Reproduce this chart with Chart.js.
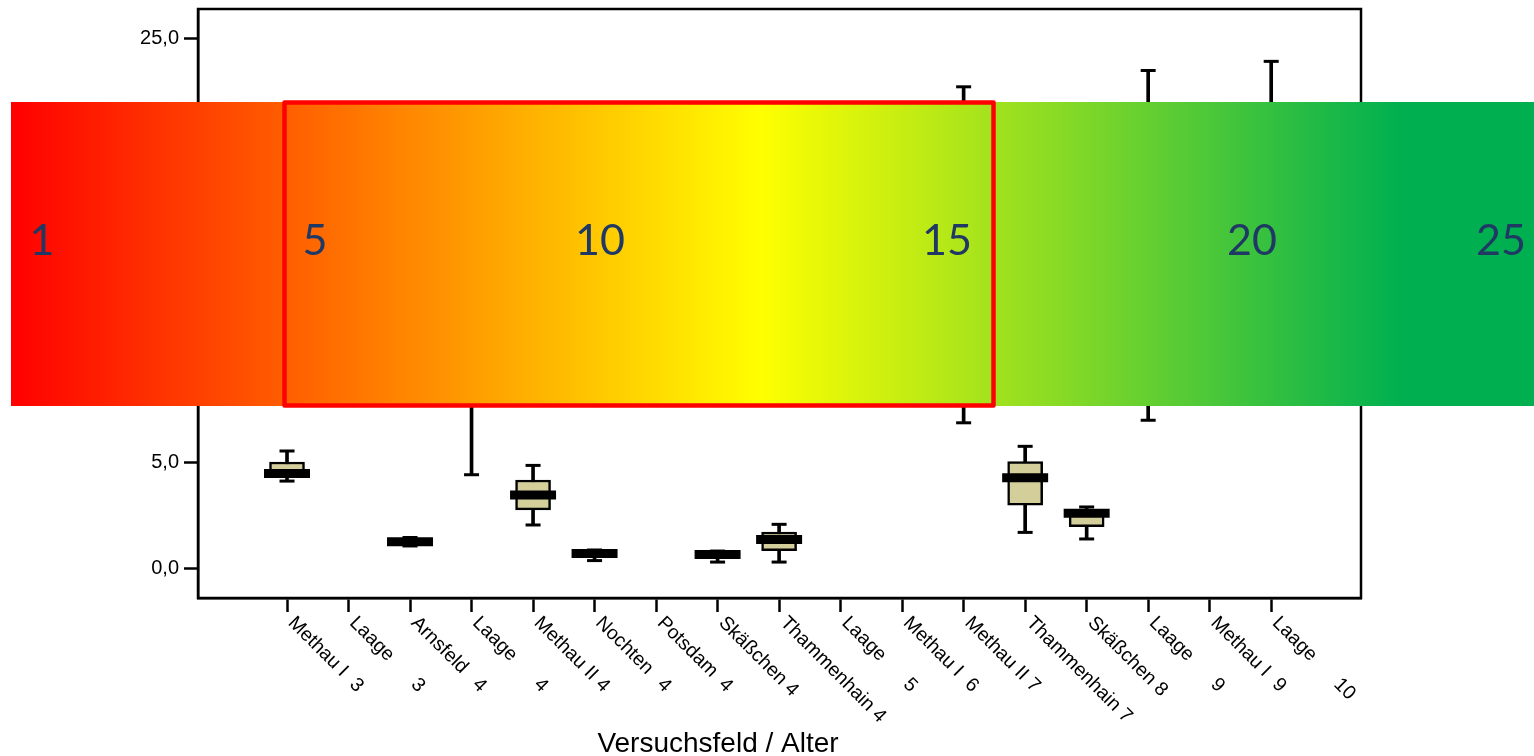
<!DOCTYPE html>
<html><head><meta charset="utf-8">
<script src="https://cdn.jsdelivr.net/npm/chart.js@4.4.1/dist/chart.umd.min.js"></script>
<style>html,body{margin:0;padding:0;background:#fff;}canvas{display:block}</style>
</head><body>
<canvas id="c" width="1534" height="756"></canvas>
<script>
// ---- data ----
const categories = ["Methau I","Laage","Arnsfeld","Laage","Methau II","Nochten","Potsdam","Skäßchen","Thammenhain","Laage","Methau I","Methau II","Thammenhain","Skäßchen","Laage","Methau I","Laage"];
const ages       = [3,3,4,4,4,4,4,4,4,5,6,7,7,8,9,9,10];
const whiskerMin = [4.10, 9.0, 1.04, 4.40, 2.03, 0.35, 10.5, 0.28, 0.28, 11.0, 9.0, 6.85, 1.68, 1.37, 6.97, 10.0, 8.5];
const q1         = [4.35, 11.5, 1.15, 9.5, 2.74, 0.50, 12.0, 0.45, 0.82, 13.0, 11.0, 11.0, 2.96, 1.95, 12.0, 12.5, 13.0];
const medians    = [4.46, 13.0, 1.24, 12.0, 3.44, 0.68, 13.0, 0.64, 1.35, 14.5, 12.5, 14.0, 4.26, 2.58, 15.0, 14.0, 16.0];
const q3         = [5.00, 14.5, 1.33, 15.0, 4.15, 0.80, 14.0, 0.75, 1.70, 16.0, 14.0, 17.0, 5.02, 2.76, 18.0, 16.0, 19.0];
const whiskerMax = [5.52, 17.0, 1.44, 20.0, 4.84, 0.85, 15.5, 0.80, 2.06, 19.0, 17.0, 22.7, 5.74, 2.88, 23.47, 19.0, 23.9];
const yTicks = [0, 5, 10, 15, 20, 25];
const xTitle = "Versuchsfeld / Alter";
const bandLabels = ["1", "5", "10", "15", "20", "25"];

// ---- build ----
const FONT = '"Liberation Sans", Arial, sans-serif';
const idx = categories.map((_, i) => i);
const whiskerData = idx.map(i => ({x: i, y: [whiskerMin[i], whiskerMax[i]]}));
const boxData = idx.map(i => ({x: i, y: [q1[i], q3[i]]}));
const capData = idx.flatMap(i => [{x: i, y: whiskerMin[i]}, {x: i, y: whiskerMax[i]}]);
const medianData = idx.map(i => ({x: i, y: medians[i]}));

const overlay = {
  id: 'overlay',
  afterDraw(chart) {
    const ctx = chart.ctx, a = chart.chartArea;
    ctx.save();
    // frame
    ctx.strokeStyle = '#000'; ctx.lineWidth = 2.5;
    ctx.strokeRect(a.left, a.top, a.right - a.left, a.bottom - a.top);
    // x category labels (rotated clockwise)
    const xs = chart.scales.x;
    ctx.fillStyle = '#000'; ctx.font = '19.5px ' + FONT;
    ctx.textBaseline = 'top'; ctx.textAlign = 'left';
    categories.forEach((name, i) => {
      const px = xs.getPixelForValue(i);
      ctx.save();
      ctx.translate(px + 11, a.bottom + 15);
      ctx.rotate(Math.PI / 4);
      ctx.fillText(name, 0, 0);
      const w = ctx.measureText(name + ' ').width;
      ctx.fillText(String(ages[i]), Math.max(87, w), 0);
      ctx.restore();
    });
    // axis title
    ctx.font = '28px ' + FONT; ctx.textAlign = 'center'; ctx.textBaseline = 'alphabetic';
    ctx.fillText(xTitle, 718, 752);
    // gradient band
    const bx0 = 11, bx1 = 1534, by0 = 102, by1 = 406;
    const g = ctx.createLinearGradient(bx0, 0, bx1, 0);
    g.addColorStop(0, '#FF0000');
    g.addColorStop(0.492, '#FFFF00');
    g.addColorStop(0.912, '#00B050');
    g.addColorStop(1, '#00B050');
    ctx.fillStyle = g;
    ctx.fillRect(bx0, by0, bx1 - bx0, by1 - by0);
    // red frame
    ctx.strokeStyle = '#FF0000'; ctx.lineWidth = 4.5; ctx.lineJoin = 'round';
    ctx.strokeRect(284.5, 102.5, 709, 303);
    // band numbers
    const bandX = [42, 315, 600, 947, 1252, 1501];
    ctx.fillStyle = '#1F3864'; ctx.font = '43px Lato, "Noto Sans", sans-serif';
    ctx.textAlign = 'center'; ctx.textBaseline = 'alphabetic';
    bandLabels.forEach((t, i) => ctx.fillText(t, bandX[i], 255));
    ctx.restore();
  }
};

new Chart(document.getElementById('c'), {
  type: 'bar',
  data: {
    datasets: [
      {type: 'bar', data: whiskerData, backgroundColor: '#000', barThickness: 3, grouped: false, order: 4},
      {type: 'line', data: capData, showLine: false, pointStyle: 'line', pointRadius: 7.5, pointBorderWidth: 3,
       pointBorderColor: '#000', pointBackgroundColor: '#000', order: 3},
      {type: 'bar', data: boxData, backgroundColor: '#D3CE9A', borderColor: '#000', borderWidth: 2.5,
       borderSkipped: false, barThickness: 35, grouped: false, order: 2},
      {type: 'line', data: medianData, showLine: false, pointStyle: 'line', pointRadius: 23, pointBorderWidth: 9,
       pointBorderColor: '#000', pointBackgroundColor: '#000', order: 1}
    ]
  },
  options: {
    responsive: false, animation: false, events: [],
    layout: {autoPadding: false, padding: {left: 0, top: 9, right: 173, bottom: 0}},
    plugins: {legend: {display: false}, tooltip: {enabled: false}},
    scales: {
      x: {
        type: 'linear', min: -1.447, max: 17.46, offset: false,
        afterBuildTicks: s => { s.ticks = idx.map(v => ({value: v})); },
        afterFit: s => { s.height = 158; s.paddingLeft = 0; s.paddingRight = 0; s.paddingTop = 0; s.paddingBottom = 0; },
        grid: {offset: false, drawOnChartArea: false, drawTicks: true, tickLength: 14, tickWidth: 2.5, tickColor: '#000'},
        border: {color: '#000', width: 2.5},
        ticks: {autoSkip: false, maxRotation: 0, callback: () => '', font: {size: 1}}
      },
      y: {
        type: 'linear', min: -1.415, max: 26.37,
        afterBuildTicks: s => { s.ticks = yTicks.map(v => ({value: v})); },
        afterFit: s => { s.width = 198; s.paddingTop = 0; s.paddingBottom = 0; s.paddingLeft = 0; s.paddingRight = 0; },
        grid: {offset: false, drawOnChartArea: false, drawTicks: true, tickLength: 14, tickWidth: 2.5, tickColor: '#000'},
        border: {color: '#000', width: 2.5},
        ticks: {color: '#000', padding: 5, font: {family: FONT, size: 20},
                callback: v => Number(v).toFixed(1).replace('.', ',')}
      }
    }
  },
  plugins: [overlay]
});
</script>
</body></html>
